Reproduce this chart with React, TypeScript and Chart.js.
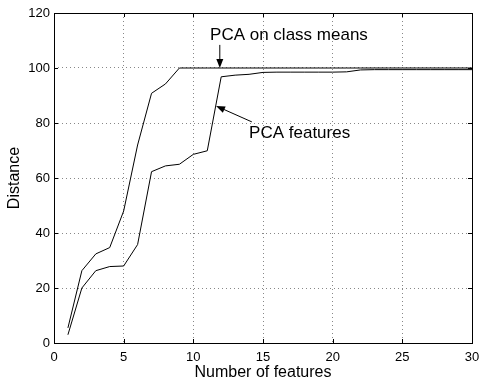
import React, { useEffect, useRef } from "react";
import { Chart, registerables } from "chart.js";

Chart.register(...registerables);

const features = [1, 2, 3, 4, 5, 6, 7, 8, 9, 10, 11, 12, 13, 14, 15, 16, 17, 18, 19, 20, 21, 22, 23, 24, 25, 26, 27, 28, 29, 30];
const classMeansDist = [5.5, 26.3, 32.4, 34.7, 48, 72, 90.8, 94.2, 100, 100, 100, 100, 100, 100, 100, 100, 100, 100, 100, 100, 100, 100, 100, 100, 100, 100, 100, 100, 100, 100];
const pcaFeaturesDist = [3, 20, 26.3, 27.8, 28, 35.8, 62.3, 64.4, 65, 68.6, 69.9, 96.8, 97.4, 97.7, 98.4, 98.5, 98.5, 98.5, 98.5, 98.5, 98.6, 99.3, 99.4, 99.4, 99.4, 99.4, 99.4, 99.4, 99.4, 99.4];
const xTicks = [0, 5, 10, 15, 20, 25, 30];
const yTicks = [0, 20, 40, 60, 80, 100, 120];

// annotations: [label, textX, textY, arrowFromX, arrowFromY, arrowToX, arrowToY]
const annotations: [string, number, number, number, number, number, number][] = [
  ["PCA on class means", 11.2, 112, 11.9, 108.4, 11.9, 100],
  ["PCA features", 14.0, 76.4, 14.2, 80.4, 11.63, 86.2],
];

const FONT = "'Liberation Sans', Arial, Helvetica, sans-serif";

const framePlugin = {
  id: "frame",
  afterDraw(chart: any) {
    const { ctx, chartArea: a, scales } = chart;
    const xs = scales.x;
    const ys = scales.y;
    ctx.save();
    ctx.strokeStyle = "#000";
    ctx.lineWidth = 1;
    ctx.setLineDash([]);
    ctx.strokeRect(Math.round(a.left) + 0.5, Math.round(a.top) + 0.5, Math.round(a.right - a.left), Math.round(a.bottom - a.top));
    const tl = 4;
    ctx.beginPath();
    xTicks.forEach((t) => {
      const px = Math.round(xs.getPixelForValue(t)) + 0.5;
      ctx.moveTo(px, a.bottom);
      ctx.lineTo(px, a.bottom - tl);
      ctx.moveTo(px, a.top);
      ctx.lineTo(px, a.top + tl);
    });
    yTicks.forEach((t) => {
      const py = Math.round(ys.getPixelForValue(t)) + 0.5;
      ctx.moveTo(a.left, py);
      ctx.lineTo(a.left + tl, py);
      ctx.moveTo(a.right, py);
      ctx.lineTo(a.right - tl, py);
    });
    ctx.stroke();

    ctx.font = `17px ${FONT}`;
    ctx.fillStyle = "#000";
    ctx.textBaseline = "middle";
    ctx.textAlign = "left";
    annotations.forEach(([label, tx, ty, fx, fy, ax, ay]) => {
      ctx.fillText(label, xs.getPixelForValue(tx), ys.getPixelForValue(ty));
      const x1 = xs.getPixelForValue(fx);
      const y1 = ys.getPixelForValue(fy);
      const x2 = xs.getPixelForValue(ax);
      const y2 = ys.getPixelForValue(ay);
      const ang = Math.atan2(y2 - y1, x2 - x1);
      const hl = 9;
      const hw = 3.5;
      ctx.beginPath();
      ctx.moveTo(x1, y1);
      ctx.lineTo(x2 - Math.cos(ang) * hl * 0.8, y2 - Math.sin(ang) * hl * 0.8);
      ctx.stroke();
      ctx.beginPath();
      ctx.moveTo(x2, y2);
      ctx.lineTo(x2 - Math.cos(ang) * hl - Math.sin(ang) * hw, y2 - Math.sin(ang) * hl + Math.cos(ang) * hw);
      ctx.lineTo(x2 - Math.cos(ang) * hl + Math.sin(ang) * hw, y2 - Math.sin(ang) * hl - Math.cos(ang) * hw);
      ctx.closePath();
      ctx.fill();
    });
    ctx.restore();
  },
};

export default function App() {
  const ref = useRef<HTMLCanvasElement>(null);
  useEffect(() => {
    if (!ref.current) return;
    const chart = new Chart(ref.current, {
      type: "line",
      data: {
        datasets: [
          {
            label: "PCA on class means",
            data: features.map((f, i) => ({ x: f, y: classMeansDist[i] })),
            borderColor: "#000",
            borderWidth: 1,
            pointRadius: 0,
            tension: 0,
          },
          {
            label: "PCA features",
            data: features.map((f, i) => ({ x: f, y: pcaFeaturesDist[i] })),
            borderColor: "#000",
            borderWidth: 1,
            pointRadius: 0,
            tension: 0,
          },
        ],
      },
      options: {
        animation: false,
        responsive: false,
        layout: { padding: { left: 0, right: 10, top: 13, bottom: 0 } },
        plugins: { legend: { display: false }, tooltip: { enabled: false } },
        scales: {
          x: {
            type: "linear",
            min: 0,
            max: 30,
            afterBuildTicks: (s: any) => {
              s.ticks = xTicks.map((v) => ({ value: v }));
            },
            afterFit: (s: any) => {
              s.height = 39;
              s.paddingLeft = 0;
              s.paddingRight = 0;
            },
            ticks: { color: "#000", font: { family: FONT, size: 13 }, padding: 7, maxRotation: 0 },
            grid: { color: (c: any) => (c.tick && (c.tick.value === 0 || c.tick.value === 30) ? "rgba(0,0,0,0)" : "#888"), drawTicks: false, lineWidth: 1 },
            border: { display: false, dash: [1, 3] },
            title: { display: true, text: "Number of features", color: "#000", font: { family: FONT, size: 16 }, padding: { top: 0, bottom: 0 } },
          },
          y: {
            type: "linear",
            min: 0,
            max: 120,
            afterBuildTicks: (s: any) => {
              s.ticks = yTicks.map((v) => ({ value: v }));
            },
            afterFit: (s: any) => {
              s.width = 54;
              s.paddingTop = 0;
              s.paddingBottom = 0;
            },
            ticks: { color: "#000", font: { family: FONT, size: 13 }, padding: 4 },
            grid: { color: (c: any) => (c.tick && (c.tick.value === 0 || c.tick.value === 120) ? "rgba(0,0,0,0)" : "#888"), drawTicks: false, lineWidth: 1 },
            border: { display: false, dash: [1, 3] },
            title: { display: true, text: "Distance", color: "#000", font: { family: FONT, size: 16 }, padding: { top: 5, bottom: 0 } },
          },
        },
      },
      plugins: [framePlugin],
    });
    return () => chart.destroy();
  }, []);
  return (
    <div style={{ position: "absolute", left: 0, top: 0, width: 482, height: 382, background: "#fff" }}>
      <canvas ref={ref} width={482} height={382} />
    </div>
  );
}
